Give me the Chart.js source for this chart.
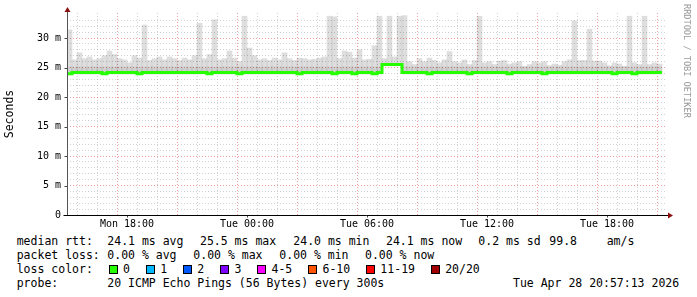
<!DOCTYPE html>
<html><head><meta charset="utf-8">
<script src="https://cdn.jsdelivr.net/npm/chart.js@4.4.1/dist/chart.umd.min.js"></script>
<style>
html,body{margin:0;padding:0;background:#fff;}
#wrap{position:relative;width:697px;height:297px;overflow:hidden;font-family:"DejaVu Sans Mono",monospace;background:#fff;}
#c{position:absolute;left:0;top:0;}
.t{position:absolute;font-size:11.5px;line-height:14px;color:#000;white-space:pre;}
.row{position:absolute;display:flex;align-items:center;height:14px;font-size:11.5px;line-height:14px;white-space:pre;}
.sq{display:inline-block;width:7px;height:7px;border:1px solid #000;margin-right:5.5px;}
.lb{margin-right:15.7px;}
#rrd{position:absolute;left:682px;top:4px;writing-mode:vertical-rl;font-size:8.6px;line-height:10px;color:#999;white-space:pre;}
</style></head>
<body><div id="wrap"><canvas id="c" width="697" height="230"></canvas><div id="rrd">RRDTOOL / TOBI OETIKER</div><div id="legend"></div></div>
<script>
// ---- data (hours since Mon 15:00, 15-minute columns) ----
const stepHours = 0.25;
const smokeMax = [
 31.4,26.3,27.5,26.5,26.8,26.3,26.5,27.0,27.8,27.2,26.5,26.3,
 25.8,27.0,26.6,32.2,26.2,26.5,26.8,26.3,26.8,26.5,26.2,26.6,
 26.3,27.0,32.5,26.5,27.2,33.1,26.3,26.5,27.8,26.6,26.0,33.7,
 28.3,27.0,26.3,26.5,26.2,26.6,26.3,27.5,26.5,26.2,26.6,26.5,
 26.3,26.4,26.6,26.8,33.7,33.6,26.5,27.8,27.6,26.6,28.0,26.3,
 26.4,28.7,33.7,26.5,33.7,26.8,33.7,33.8,26.0,25.5,26.5,26.0,
 26.6,26.2,25.8,26.3,27.7,26.0,25.8,26.3,25.5,26.2,33.7,25.8,
 26.0,25.5,26.1,26.2,25.6,25.8,26.0,25.2,25.5,26.0,25.8,26.0,
 25.3,25.6,25.4,26.0,26.3,32.9,26.2,26.2,31.5,26.1,26.1,25.8,
 25.3,25.8,25.6,25.2,33.7,25.8,25.5,33.7,25.5,25.8,25.6
];
const smokeMin = [
 23.9,23.9,23.9,23.9,23.9,23.9,23.9,23.9,23.9,23.9,23.9,23.9,
 23.9,23.9,23.9,23.9,23.9,23.9,23.9,23.9,23.9,23.9,23.9,23.9,
 23.9,23.9,23.9,23.9,23.9,23.9,23.9,23.9,23.9,23.9,23.9,23.9,
 23.9,23.9,23.9,23.9,23.9,23.9,23.9,23.9,23.9,23.9,23.9,23.9,
 23.9,23.9,23.9,23.9,23.9,23.9,23.9,23.9,23.9,23.9,23.9,23.9,
 23.9,23.9,23.9,25.3,25.3,25.3,25.3,23.9,23.9,23.9,23.9,23.9,
 23.9,23.9,23.9,23.9,23.9,23.9,23.9,23.9,23.9,23.9,23.9,23.9,
 23.9,23.9,23.9,23.9,23.9,23.9,23.9,23.9,23.9,23.9,23.9,23.9,
 23.9,23.9,23.9,23.9,23.9,23.9,23.9,23.9,23.9,23.9,23.9,23.9,
 23.9,23.9,23.9,23.9,23.9,23.9,23.9,23.9,23.9,23.9,23.9
];
const median = [
 23.95,24.15,24.15,24.15,24.15,24.15,24.15,23.95,24.15,24.15,24.15,24.15,
 24.15,24.15,23.95,24.15,24.15,24.15,24.15,24.15,24.15,24.15,24.15,24.15,
 24.15,24.15,24.15,24.15,23.95,24.15,24.15,24.15,24.15,24.15,23.95,24.15,
 24.15,24.15,24.15,24.15,24.15,24.15,24.15,24.15,24.15,24.15,23.95,24.15,
 24.15,24.15,24.15,24.15,24.15,23.95,24.15,24.15,24.15,23.95,24.15,24.15,
 24.15,23.95,24.15,25.5,25.5,25.5,25.5,24.15,24.15,24.15,24.15,24.15,
 23.95,24.15,24.15,24.15,24.15,24.15,24.15,24.15,23.95,24.15,24.15,24.15,
 24.15,24.15,24.15,24.15,23.95,24.15,24.15,24.15,24.15,24.15,24.15,23.95,
 24.15,24.15,24.15,24.15,24.15,24.15,24.15,24.15,24.15,24.15,24.15,24.15,
 24.15,23.95,24.15,24.15,24.15,23.95,24.15,24.15,24.15,24.15,24.15
];
const coreTop = 25.1;
const xTickLabels = {3:'Mon 18:00', 9:'Tue 00:00', 15:'Tue 06:00', 21:'Tue 12:00', 27:'Tue 18:00'};
const yTickValues = [0,5,10,15,20,25,30];
const lossLabels = ['0','1','2','3','4-5','6-10','11-19','20/20'];
const lossColors = ['#26ff00','#00b8ff','#0059ff','#7e00ff','#ff00ff','#ff5500','#ff0000','#a00000'];
const rttStats = ['median rtt:','24.1 ms avg','25.5 ms max','24.0 ms min','24.1 ms now','0.2 ms sd','99.8','am/s'];
const lossStats = ['packet loss:','0.00 % avg','0.00 % max','0.00 % min','0.00 % now'];
const probeText = ['probe:','20 ICMP Echo Pings (56 Bytes) every 300s'];
const stamp = 'Tue Apr 28 20:57:13 2026';

// ---- legend ----
const lg = document.getElementById('legend');
function span(txt, x, y){ const s=document.createElement('div'); s.className='t'; s.textContent=txt; s.style.left=x+'px'; s.style.top=y+'px'; lg.appendChild(s); }
const rttX = [16.7,107.3,200,293.3,386,478.3,549.3,606.7];
rttStats.forEach((t,i)=>span(t, rttX[i], 234));
const lossX = [16.7,107.3,193.3,279.3,365];
lossStats.forEach((t,i)=>span(t, lossX[i], 247.5));
span('loss color:', 16.7, 262);
const row = document.createElement('div'); row.className='row'; row.style.left='108.5px'; row.style.top='262px';
lossLabels.forEach((l,i)=>{ const q=document.createElement('span'); q.className='sq'; q.style.background=lossColors[i]; row.appendChild(q); const b=document.createElement('span'); b.className='lb'; b.textContent=l; row.appendChild(b); });
lg.appendChild(row);
span(probeText[0], 16.7, 276);
span(probeText[1], 107.3, 276);
span(stamp, 513, 276);

// ---- chart ----
const smokeData = smokeMax.map((v,i)=>({x:(i+0.5)*stepHours, y:[smokeMin[i], v]}));
const coreData = smokeMax.map((v,i)=> smokeMin[i] < coreTop ? {x:(i+0.5)*stepHours, y:[smokeMin[i], Math.min(coreTop, v)]} : null).filter(Boolean);
const medData = median.map((v,i)=>({x:i*stepHours, y:v}));
medData.push({x:median.length*stepHours, y:median[median.length-1]});

const axesPlugin = {
  id:'axesArrows',
  afterDraw(chart){
    const {ctx, chartArea:a, scales} = chart;
    const y0 = Math.round(scales.y.getPixelForValue(0)) + 0.5;
    const xl = Math.round(a.left) + 0.5;
    ctx.save();
    ctx.lineWidth = 1;
    ctx.strokeStyle = '#444';
    yTickValues.forEach(v=>{ const py=Math.round(scales.y.getPixelForValue(v))+0.5; ctx.beginPath(); ctx.moveTo(xl-3,py); ctx.lineTo(xl,py); ctx.stroke(); });
    Object.keys(xTickLabels).forEach(h=>{ const px=Math.round(scales.x.getPixelForValue(+h))+0.5; ctx.beginPath(); ctx.moveTo(px,y0); ctx.lineTo(px,y0+2); ctx.stroke(); });
    ctx.strokeStyle = '#555';
    ctx.beginPath(); ctx.moveTo(xl, y0); ctx.lineTo(xl, a.top - 3); ctx.stroke();
    ctx.strokeStyle = '#000';
    ctx.beginPath(); ctx.moveTo(xl - 4, y0); ctx.lineTo(a.right + 2, y0); ctx.stroke();
    ctx.fillStyle = '#8b1010';
    ctx.beginPath(); ctx.moveTo(xl - 3, a.top - 1); ctx.lineTo(xl + 3, a.top - 1); ctx.lineTo(xl, a.top - 6); ctx.closePath(); ctx.fill();
    ctx.beginPath(); ctx.moveTo(a.right + 1, y0 - 3); ctx.lineTo(a.right + 1, y0 + 3); ctx.lineTo(a.right + 6, y0); ctx.closePath(); ctx.fill();
    ctx.restore();
  }
};

const isNear = (v)=>Math.abs(v-Math.round(v))<1e-6;
const MAJOR = 'rgba(230,95,95,0.6)', MINOR = 'rgba(165,165,165,0.5)';
function gridColor(every){
  return (c)=>{ const t = c && c.tick; if(!t) return MINOR; const v = Math.round(t.value); return (v%every===0 && v>0) ? MAJOR : MINOR; };
}
new Chart(document.getElementById('c'), {
  type:'bar',
  data:{ datasets:[
    { type:'line', data:medData, borderColor:'#26ff00', borderWidth:3, pointRadius:0, stepped:true, fill:false, order:0, borderJoinStyle:'miter', borderCapStyle:'butt' },
    { data:coreData, backgroundColor:'rgba(0,0,0,0.07)', borderWidth:0, barPercentage:1, categoryPercentage:1, order:1, grouped:false },
    { data:smokeData, backgroundColor:'rgba(0,0,0,0.13)', borderWidth:0, barPercentage:1, categoryPercentage:1, order:2, grouped:false }
  ]},
  options:{
    responsive:false, animation:false, devicePixelRatio:1,
    layout:{ padding:{ top:13, right:30, left:0, bottom:0 } },
    plugins:{ legend:{display:false}, tooltip:{enabled:false} },
    scales:{
      x:{ type:'linear', min:0, max:30, offset:false,
        afterFit(s){ s.height = 15; },
        afterBuildTicks(s){ s.ticks = s.ticks.filter(t=>isNear(t.value)); },
        ticks:{ stepSize:1, autoSkip:false, maxRotation:0, padding:3, color:'#000',
          font:{ family:'DejaVu Sans Mono', size:10 },
          callback:(v)=> xTickLabels[Math.round(v)] || '' },
        grid:{ drawTicks:false, color:gridColor(3) },
        border:{ display:false, dash:[1,2] }
      },
      y:{ type:'linear', min:0, max:34.24,
        afterFit(s){ s.width = 67; },
        afterBuildTicks(s){ s.ticks = s.ticks.filter(t=>isNear(t.value)); },
        ticks:{ stepSize:1, autoSkip:false, padding:6, color:'#000',
          font:{ family:'DejaVu Sans Mono', size:10 },
          callback:(v)=> (Math.round(v)%5===0) ? (v===0 ? '0' : Math.round(v)+' m') : '' },
        title:{ display:true, text:'Seconds', color:'#000', padding:{top:3,bottom:0}, font:{ family:'DejaVu Sans Mono', size:11.5 } },
        grid:{ drawTicks:false, color:gridColor(5) },
        border:{ display:false, dash:[1,2] }
      }
    }
  },
  plugins:[axesPlugin]
});
</script>
</body></html>
